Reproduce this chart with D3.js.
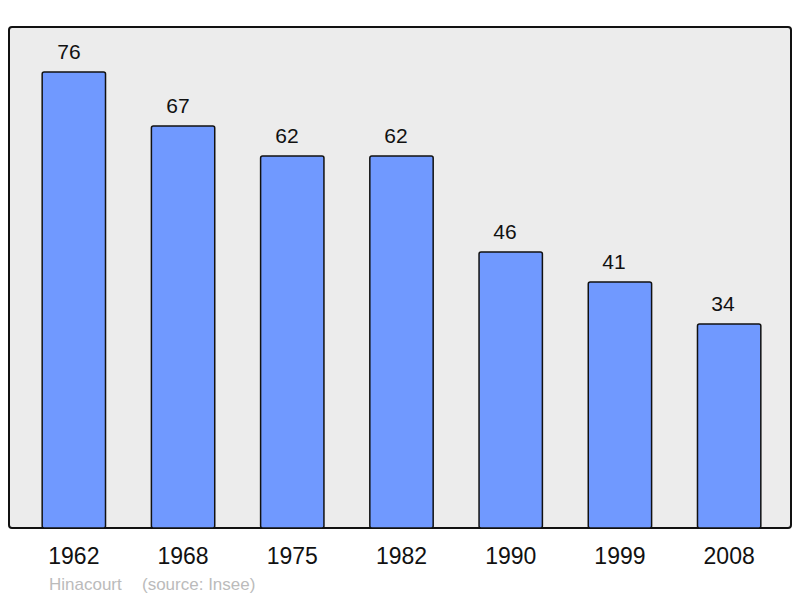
<!DOCTYPE html>
<meta charset="utf-8">
<script src="https://d3js.org/d3.v7.min.js"></script>
<style>
  body { margin: 0; background: #fff; }
  text { font-family: "Liberation Sans", Arial, sans-serif; }
</style>
<svg id="chart" width="800" height="598"></svg>
<script>
  // data
  var years = ["1962", "1968", "1975", "1982", "1990", "1999", "2008"];
  var population = [76, 67, 62, 62, 46, 41, 34];
  var place = "Hinacourt";
  var source = "(source: Insee)";

  var svg = d3.select("#chart");

  // plot frame
  var frame = {left: 9, right: 791, top: 27, bottom: 528};

  var x = d3.scaleBand()
      .domain(years)
      .range([frame.left + 1.5, frame.right + 1.5])
      .paddingInner(0.42)
      .paddingOuter(0.29);

  // the value labels sit a little left of the bar centres, drifting further right to left
  var xLabel = d3.scalePoint()
      .domain(years)
      .range([frame.left + 60, frame.right - 68]);

  var y = d3.scaleLinear()
      .domain([0, 83.5])
      .range([frame.bottom, frame.top]);

  svg.append("rect")
      .attr("x", frame.left).attr("y", frame.top)
      .attr("width", frame.right - frame.left).attr("height", frame.bottom - frame.top)
      .attr("rx", 3)
      .attr("fill", "#ececec")
      .attr("stroke", "#111")
      .attr("stroke-width", 2);

  var bars = years.map(function(d, i){ return {year: d, value: population[i]} });

  svg.append("g")
    .selectAll("rect")
    .data(bars)
    .enter()
    .append("rect")
      .attr("x", function(d){ return x(d.year) })
      .attr("y", function(d){ return y(d.value) })
      .attr("width", x.bandwidth())
      .attr("height", function(d){ return frame.bottom - y(d.value) })
      .attr("rx", 2)
      .attr("fill", "#7099ff")
      .attr("stroke", "#111")
      .attr("stroke-width", 1.5);

  // value labels
  svg.append("g")
    .selectAll("text")
    .data(bars)
    .enter()
    .append("text")
      .attr("x", function(d){ return xLabel(d.year) })
      .attr("y", function(d){ return y(d.value) - 13.5 })
      .attr("text-anchor", "middle")
      .style("font-size", "21px")
      .attr("fill", "#111")
      .text(function(d){ return d.value });

  // year axis, no line or ticks
  var xAxis = svg.append("g")
      .attr("transform", "translate(0," + frame.bottom + ")")
      .call(d3.axisBottom(x).tickSize(0).tickPadding(20));
  xAxis.select(".domain").remove();
  xAxis.selectAll("text")
      .style("font-size", "23px")
      .style("font-family", "Liberation Sans, Arial, sans-serif")
      .attr("fill", "#111");

  svg.append("text")
      .attr("x", 49).attr("y", 590)
      .style("font-size", "17px")
      .attr("fill", "#bbb")
      .text(place);
  svg.append("text")
      .attr("x", 142).attr("y", 590)
      .style("font-size", "17px")
      .attr("fill", "#bbb")
      .text(source);
</script>
